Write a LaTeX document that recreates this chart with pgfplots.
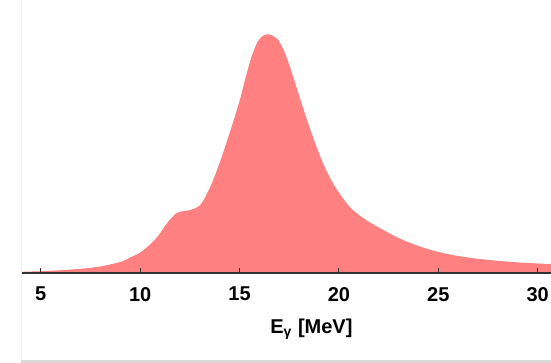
\documentclass[border=0pt]{standalone}
\usepackage{fontspec}
\setmainfont{Liberation Sans}
\usepackage{pgfplots}
\pgfplotsset{compat=1.18}
\definecolor{pinkc}{RGB}{255,128,128}
\pgfplotstableread{
x y
4.045 1.2
5 1.8
6 2.8
7 4.2
8 6.5
9 11
9.5 15.5
10 20.5
10.5 28.5
10.9 37
11.4 51
11.8 59.5
12.1 61.6
12.4 62.5
12.8 65
13.1 70
13.55 87
14.05 113
14.55 143
15 172
15.3 195
15.6 216
15.9 231
16.2 237.5
16.5 238.5
16.9 234
17.25 221.6
17.67 198
18.09 171.6
18.59 141.6
19.09 115
19.4 101
19.75 88
20.1 77.5
20.42 69
20.75 62.2
21.09 56.8
21.5 51.3
22 45.5
23 35
24 27
25 21
26 17
27 14.2
28 12.2
29 10.6
30 9.5
30.67 9
}\gdr
\begin{document}
\begin{tikzpicture}[x=1pt,y=1pt]
\useasboundingbox (0,0) rectangle (275.5,181.5);
\fill[black!15] (10.5,0) rectangle (275.5,1.6);
\draw[black!6,line width=0.4pt] (10.5,1.6) -- (10.5,181.5);
\begin{axis}[
  at={(10.9pt,45pt)}, anchor=south west,
  scale only axis, width=264.6pt, height=136.5pt,
  xmin=4.045, xmax=30.67, ymin=0, ymax=273,
  axis y line=none,
  axis x line=bottom,
  x axis line style={-, draw=black!80, line width=0.7pt},
  xtick={5,10,15,20,25,30},
  tick align=inside,
  major tick length=2.6pt,
  tick style={draw=black!80, line width=0.5pt},
  /pgf/number format/assume math mode=true,
  ticklabel style={font=\fontsize{10}{12}\selectfont\bfseries},
  xticklabel style={yshift=-3.5pt},
  xlabel={E\textsubscript{γ} [MeV]},
  xlabel style={font=\fontsize{10}{12}\selectfont\bfseries, yshift=-2pt, xshift=12.5pt},
  axis on top,
  clip=true,
]
\addplot[fill=pinkc, draw=none, smooth, tension=0.5] table {\gdr} \closedcycle;
\end{axis}
\end{tikzpicture}
\end{document}
